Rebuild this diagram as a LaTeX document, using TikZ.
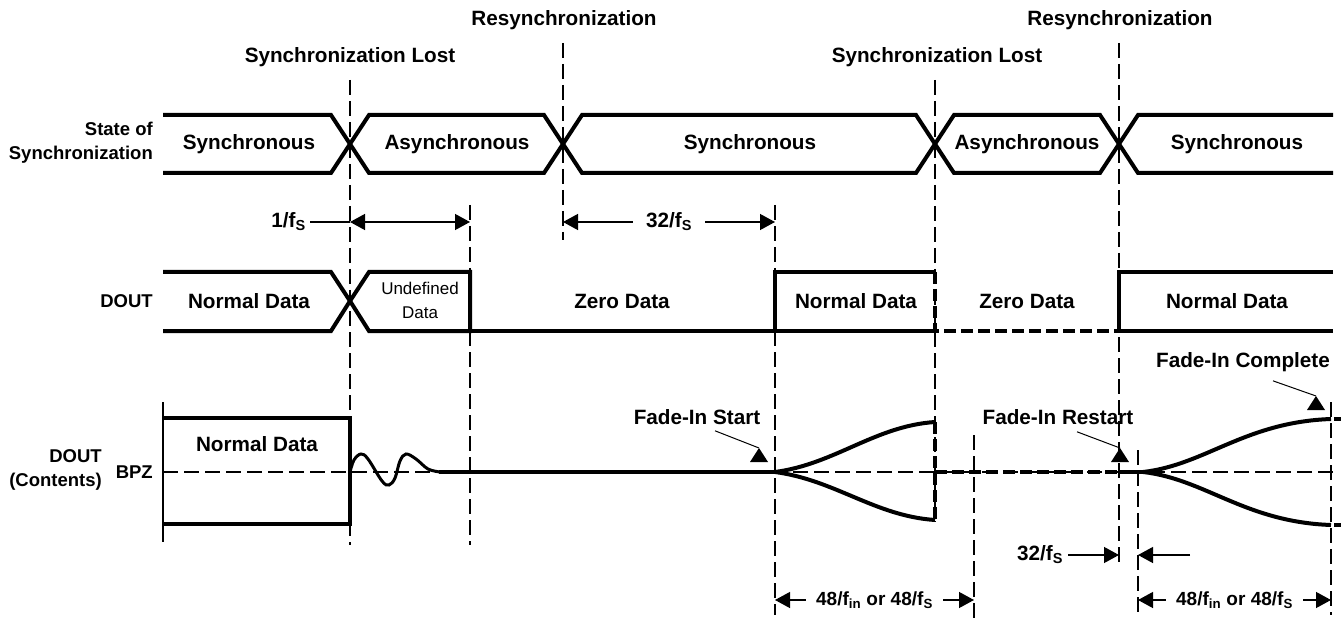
\documentclass[tikz,border=0pt]{standalone}
\usepackage{fontspec}
\setmainfont{Liberation Sans}
\usetikzlibrary{positioning,arrows.meta}
\def\fS{f\textsubscript{S}}
\def\fin{f\textsubscript{in}}
\def\fadetip#1{\fill (#1) -- ++(-9pt,-14pt) -- ++(18pt,0pt) -- cycle;}

\begin{document}
\begin{tikzpicture}[>={Triangle[width=16pt,length=15pt]},
	sig/.style={line width=4pt},
	sigdash/.style={line width=4pt, dash pattern=on 12pt off 5pt},
	guide/.style={line width=1.3pt, dash pattern=on 15pt off 6pt},
	dim/.style={line width=1.3pt},
	lead/.style={line width=1pt},
	lbl/.style={font=\bfseries\fontsize{20.7}{24}\selectfont, inner sep=0pt},
	side/.style={font=\bfseries\fontsize{18.5}{24}\selectfont, align=right, inner sep=0pt, anchor=east},
	small/.style={font=\fontsize{17}{24}\selectfont, align=center, inner sep=0pt}]
	\useasboundingbox (0pt, 0pt) rectangle (1341pt, 622pt);
	% events
	\draw (350.0pt, 565.0pt)node[lbl](lost1){Synchronization Lost};
	\draw (564.0pt, 602.0pt)node[lbl](resync1){Resynchronization};
	\draw (937.0pt, 565.0pt)node[lbl](lost2){Synchronization Lost};
	\draw (1120.0pt, 602.0pt)node[lbl](resync2){Resynchronization};
	\draw[dim] (163.0pt, 220.0pt) -- (163.0pt, 80.0pt);
	\draw[guide] (350.0pt, 542.0pt) -- (350.0pt, 77.0pt);
	\draw[guide] (470.0pt, 417.0pt) -- (470.0pt, 77.0pt);
	\draw[guide] (563.0pt, 579.0pt) -- (563.0pt, 382.0pt);
	\draw[guide] (775.0pt, 417.0pt) -- (775.0pt, 7.0pt);
	\draw[guide] (935.0pt, 542.0pt) -- (935.0pt, 100.0pt);
	\draw[guide] (974.0pt, 187.0pt) -- (974.0pt, 2.0pt);
	\draw[guide] (1119.0pt, 579.0pt) -- (1119.0pt, 55.0pt);
	\draw[guide] (1138.0pt, 172.0pt) -- (1138.0pt, 7.0pt);
	\draw[guide] (1331.0pt, 220.0pt) -- (1331.0pt, 7.0pt);
	% state of synchronization
	\draw (153.0pt, 479.0pt)node[side](state){State of\\Synchronization};
	\draw[sig] (163pt, 507pt) -- (331pt, 507pt) -- (350pt, 478pt) -- (331pt, 449pt) -- (163pt, 449pt);
	\draw[sig] (350pt, 478pt) -- (369pt, 507pt) -- (544pt, 507pt) -- (563pt, 478pt) -- (544pt, 449pt) -- (369pt, 449pt) -- cycle;
	\draw[sig] (563pt, 478pt) -- (582pt, 507pt) -- (916pt, 507pt) -- (935pt, 478pt) -- (916pt, 449pt) -- (582pt, 449pt) -- cycle;
	\draw[sig] (935pt, 478pt) -- (954pt, 507pt) -- (1100pt, 507pt) -- (1119pt, 478pt) -- (1100pt, 449pt) -- (954pt, 449pt) -- cycle;
	\draw[sig] (1333pt, 507pt) -- (1138pt, 507pt) -- (1119pt, 478pt) -- (1138pt, 449pt) -- (1333pt, 449pt);
	\draw (249.0pt, 478.0pt)node[lbl](st1){Synchronous};
	\draw (457.0pt, 478.0pt)node[lbl](st2){Asynchronous};
	\draw (750.0pt, 478.0pt)node[lbl](st3){Synchronous};
	\draw (1027.0pt, 478.0pt)node[lbl](st4){Asynchronous};
	\draw (1237.0pt, 478.0pt)node[lbl](st5){Synchronous};
	% timing marks
	\draw (310.0pt, 400.0pt)node[lbl, anchor=east, inner xsep=4pt](t1){1/\fS};
	\coordinate (a1) at (350pt, 400pt);
	\coordinate (a2) at (470pt, 400pt);
	\coordinate (b1) at (563pt, 400pt);
	\coordinate (b2) at (775pt, 400pt);
	\path[dim] (t1) edge (a1);
	\path[dim, <->] (a1) edge (a2);
	\path[dim, <->] (b1) edge node[lbl, fill=white, inner xsep=13pt](t2){32/\fS}(b2);
	% DOUT
	\draw (153.0pt, 321.0pt)node[side](dout){DOUT};
	\draw[sig] (163pt, 350pt) -- (331pt, 350pt) -- (350pt, 321pt) -- (331pt, 291pt) -- (163pt, 291pt);
	\draw[sig] (350pt, 321pt) -- (369pt, 350pt) -- (470pt, 350pt) -- (470pt, 291pt) -- (369pt, 291pt) -- cycle;
	\draw[sig] (470pt, 291pt) -- (935pt, 291pt);
	\draw[sig] (775pt, 291pt) -- (775pt, 350pt) -- (935pt, 350pt);
	\draw[sigdash] (935pt, 350pt) -- (935pt, 291pt) -- (1119pt, 291pt);
	\draw[sig] (1333pt, 350pt) -- (1119pt, 350pt) -- (1119pt, 291pt) -- (1333pt, 291pt);
	\draw (249.0pt, 321.0pt)node[lbl](d1){Normal Data};
	\draw (420.0pt, 322.0pt)node[small](d2){Undefined\\Data};
	\draw (622.0pt, 321.0pt)node[lbl](d3){Zero Data};
	\draw (856.0pt, 321.0pt)node[lbl](d4){Normal Data};
	\draw (1027.0pt, 321.0pt)node[lbl](d5){Zero Data};
	\draw (1227.0pt, 321.0pt)node[lbl](d6){Normal Data};
	% DOUT contents
	\draw (102.0pt, 152.0pt)node[side](contents){DOUT\\(Contents)};
	\draw (153.0pt, 150.0pt)node[side](bpz){BPZ};
	\draw[guide] (163pt, 150pt) -- (1333pt, 150pt);
	\draw[sig] (163pt, 204pt) -- (350pt, 204pt) -- (350pt, 98pt) -- (163pt, 98pt);
	\draw (257.0pt, 178.0pt)node[lbl](c1){Normal Data};
	\draw[line width=3pt] plot[smooth, tension=0.6] coordinates {(350pt, 150pt) (354pt, 162pt) (361pt, 168pt) (368pt, 163pt) (382pt, 141pt) (389pt, 137pt) (395pt, 144pt) (400pt, 161pt) (406pt, 168pt) (416pt, 163pt) (428pt, 153pt) (440pt, 150pt)};
	\draw[sig] (439pt, 150pt) -- (775pt, 150pt);
	\draw[sig] (775pt, 150pt) .. controls (835pt, 158pt) and (875pt, 196pt) .. (935pt, 200pt);
	\draw[sig] (775pt, 150pt) .. controls (835pt, 142pt) and (875pt, 106pt) .. (935pt, 102pt);
	\draw[sigdash] (935pt, 200pt) -- (935pt, 102pt);
	\draw[sigdash] (935pt, 150pt) -- (1119pt, 150pt);
	\draw[sig] (1119pt, 150pt) -- (1143pt, 150pt);
	\draw[sig] (1143pt, 150pt) .. controls (1205pt, 157pt) and (1245pt, 200pt) .. (1331pt, 203pt);
	\draw[sig] (1143pt, 150pt) .. controls (1205pt, 143pt) and (1245pt, 100pt) .. (1331pt, 97pt);
	\draw[sig] (1334pt, 203pt) -- (1341pt, 203pt);
	\draw[sig] (1334pt, 97pt) -- (1341pt, 97pt);
	% fade-in marks
	\draw (697.0pt, 205.0pt)node[lbl](fstart){Fade-In Start};
	\draw (1058.0pt, 205.0pt)node[lbl](frestart){Fade-In Restart};
	\draw (1243.0pt, 260.0pt)node[lbl](fcomplete){Fade-In Complete};
	\coordinate (fsTip) at (759pt, 174pt);
	\coordinate (frTip) at (1120pt, 174pt);
	\coordinate (fcTip) at (1316pt, 226pt);
	\draw[lead] ([xshift=18pt, yshift=-6pt]fstart.south) -- (fsTip);
	\draw[lead] ([xshift=19pt, yshift=-7pt]frestart.south) -- (frTip);
	\draw[lead] ([xshift=30pt, yshift=-9pt]fcomplete.south) -- (fcTip);
	\fadetip{fsTip}
	\fadetip{frTip}
	\fadetip{fcTip}
	% bottom timing
	\draw (1040.0pt, 67.0pt)node[lbl, inner xsep=5pt](t3){32/\fS};
	\coordinate (e1) at (1119pt, 67pt);
	\coordinate (e2) at (1138pt, 67pt);
	\coordinate (e3) at (1190pt, 67pt);
	\path[dim, ->] (t3) edge (e1);
	\path[dim, ->] (e3) edge (e2);
	\coordinate (g1) at (775pt, 22pt);
	\coordinate (g2) at (974pt, 22pt);
	\coordinate (h1) at (1138pt, 22pt);
	\coordinate (h2) at (1331pt, 22pt);
	\path[dim, <->] (g1) edge node[lbl, fill=white, inner xsep=10pt, font=\bfseries\fontsize{19}{22}\selectfont](t4){48/\fin{} or 48/\fS}(g2);
	\path[dim, <->] (h1) edge node[lbl, fill=white, inner xsep=10pt, font=\bfseries\fontsize{19}{22}\selectfont](t5){48/\fin{} or 48/\fS}(h2);
\end{tikzpicture}
\end{document}
